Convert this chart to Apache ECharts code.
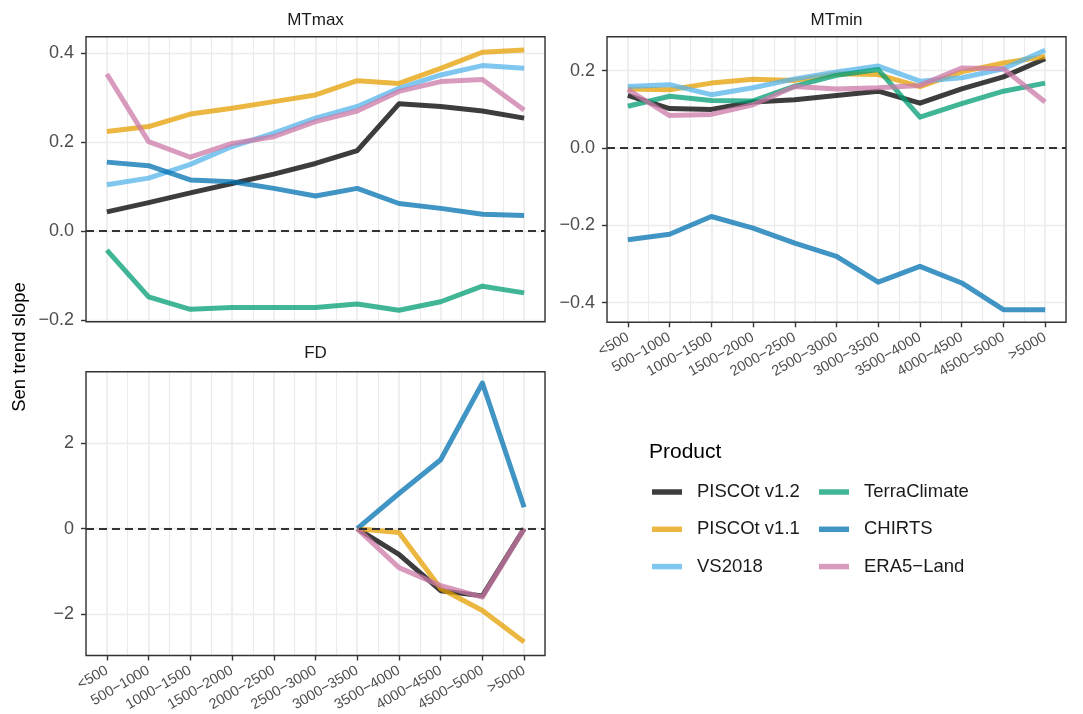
<!DOCTYPE html>
<html><head><meta charset="utf-8">
<script src="https://cdn.jsdelivr.net/npm/echarts@6/dist/echarts.min.js"></script>
<style>html,body{margin:0;padding:0;background:#fff}#c{width:1083px;height:714px}</style>
</head><body><div id="c"></div><script>
// ---- data ----
const categories = ['<500','500\u22121000','1000\u22121500','1500\u22122000','2000\u22122500','2500\u22123000','3000\u22123500','3500\u22124000','4000\u22124500','4500\u22125000','>5000'];
const products = ['PISCOt v1.2','PISCOt v1.1','VS2018','TerraClimate','CHIRTS','ERA5\u2212Land'];
const panelNames = ['MTmax','MTmin','FD'];

const mtmaxPISCOt12 = [0.043,0.064,0.086,0.107,0.128,0.152,0.181,0.286,0.280,0.270,0.254];
const mtmaxPISCOt11 = [0.224,0.235,0.263,0.276,0.291,0.306,0.338,0.332,0.366,0.402,0.407];
const mtmaxVS2018   = [0.104,0.119,0.150,0.190,0.220,0.254,0.280,0.321,0.351,0.372,0.366];
const mtmaxTerra    = [-0.043,-0.148,-0.176,-0.172,-0.172,-0.172,-0.164,-0.178,-0.159,-0.124,-0.139];
const mtmaxCHIRTS   = [0.155,0.147,0.115,0.111,0.096,0.079,0.096,0.062,0.051,0.038,0.035];
const mtmaxERA5     = [0.353,0.201,0.166,0.197,0.212,0.246,0.270,0.314,0.336,0.341,0.272];

const mtminPISCOt12 = [0.136,0.102,0.100,0.119,0.125,0.136,0.147,0.116,0.153,0.184,0.231];
const mtminPISCOt11 = [0.153,0.151,0.168,0.178,0.175,0.192,0.190,0.159,0.197,0.220,0.237];
const mtminVS2018   = [0.159,0.164,0.138,0.156,0.179,0.197,0.212,0.173,0.182,0.205,0.253];
const mtminTerra    = [0.108,0.134,0.123,0.122,0.160,0.188,0.203,0.080,0.115,0.147,0.168];
const mtminCHIRTS   = [-0.237,-0.223,-0.177,-0.207,-0.246,-0.280,-0.347,-0.306,-0.349,-0.418,-0.418];
const mtminERA5     = [0.151,0.084,0.087,0.112,0.159,0.153,0.156,0.162,0.207,0.205,0.119];

const fdPISCOt12 = [null,null,null,null,null,null,0,-0.60,-1.45,-1.57,0];
const fdPISCOt11 = [null,null,null,null,null,null,0,-0.09,-1.40,-1.91,-2.65];
const fdVS2018   = [null,null,null,null,null,null,null,null,null,null,null];
const fdTerra    = [null,null,null,null,null,null,null,null,null,null,null];
const fdCHIRTS   = [null,null,null,null,null,null,0,0.82,1.61,3.40,0.50];
const fdERA5     = [null,null,null,null,null,null,0,-0.91,-1.33,-1.60,0];

const mtmaxTicks = [-0.2,0,0.2,0.4];
const mtminTicks = [-0.4,-0.2,0,0.2];
const fdTicks = [-2,0,2];

// ---- styling / layout ----
const colors = ['rgba(0,0,0,0.76)','rgba(230,159,0,0.75)','rgba(86,180,233,0.75)','rgba(0,158,115,0.75)','rgba(0,114,178,0.75)','rgba(204,121,167,0.75)'];
const FONT = "'Liberation Sans', Arial, Helvetica, sans-serif";
const panelData = [
  [mtmaxPISCOt12,mtmaxPISCOt11,mtmaxVS2018,mtmaxTerra,mtmaxCHIRTS,mtmaxERA5],
  [mtminPISCOt12,mtminPISCOt11,mtminVS2018,mtminTerra,mtminCHIRTS,mtminERA5],
  [fdPISCOt12,fdPISCOt11,fdVS2018,fdTerra,fdCHIRTS,fdERA5]
];
const panelTicks = [mtmaxTicks, mtminTicks, fdTicks];
const panelDecimals = [1,1,0];
const grids = [
  {left:86, top:36.7, width:459, height:285},
  {left:607, top:36.7, width:459, height:285.6},
  {left:86, top:371.7, width:459, height:285}
];
const yRanges = [[-0.2038,0.437],[-0.4507,0.288],[-2.963,3.665]];
const showX = [false,true,true];

function fmt(d){ return function(v){ return v.toFixed(d).replace('-','\u2212'); }; }

const option = {
  animation:false,
  backgroundColor:'#fff',
  grid: grids.map(g => Object.assign({show:true, borderColor:'#333', borderWidth:1.4, backgroundColor:'transparent', z:2}, g)),
  xAxis: [],
  yAxis: [],
  series: [],
  legend: [
    {data: products.slice(0,3), left:647, top:477},
    {data: products.slice(3,6), left:814, top:477}
  ].map(l => Object.assign({orient:'vertical', icon:'rect', itemWidth:30, itemHeight:5.5, itemGap:17.3,
      selectedMode:false,
      textStyle:{fontSize:18.5, color:'#1a1a1a', fontFamily:FONT, lineHeight:20, padding:[0,0,0,10]}}, l)),
  graphic: []
};

grids.forEach((g,i) => {
  option.xAxis.push({
    type:'category', gridIndex:i, data:categories, boundaryGap:true, position:'bottom',
    axisLine:{show:false, onZero:false},
    axisTick:{show:showX[i], alignWithLabel:true, interval:0, length:5, lineStyle:{color:'#333', width:1.4}},
    axisLabel:{show:showX[i], interval:0, rotate:30, fontSize:14.5, color:'#4d4d4d', fontFamily:FONT, margin:14},
    splitLine:{show:true, interval:0, alignWithLabel:true, lineStyle:{color:'#ebebeb', width:1.6}}
  });
  option.xAxis.push({
    type:'category', gridIndex:i, data:categories, boundaryGap:true, position:'top',
    axisLine:{show:false, onZero:false}, axisTick:{show:false}, axisLabel:{show:false},
    splitLine:{show:true, interval:0, lineStyle:{color:'#ebebeb', width:1.1}}
  });
  const ticks = panelTicks[i];
  const f = fmt(panelDecimals[i]);
  option.yAxis.push({
    type:'value', gridIndex:i, min:yRanges[i][0], max:yRanges[i][1], splitNumber:7,
    axisLine:{show:false, onZero:false},
    axisTick:{show:true, length:5, lineStyle:{color:'#333', width:1.4}, customValues:ticks},
    axisLabel:{customValues:ticks, fontSize:18, color:'#4d4d4d', fontFamily:FONT, margin:12,
      formatter: v => ticks.some(t => Math.abs(t - v) < 1e-6) ? f(v) : ''},
    splitLine:{show:true, lineStyle:{color:'#ebebeb', width:1.4}}
  });
  // zero reference line
  option.series.push({
    type:'line', xAxisIndex:2*i, yAxisIndex:i, data:[], silent:true, z:2,
    markLine:{silent:true, symbol:['none','none'], label:{show:false},
      lineStyle:{color:'#333', type:[8,5], width:1.8},
      data:[{yAxis:0}]}
  });
  products.forEach((p,k) => {
    option.series.push({
      type:'line', name:p, xAxisIndex:2*i, yAxisIndex:i, data:panelData[i][k],
      symbol:'none', showSymbol:false, connectNulls:false, silent:true, z:3,
      color:colors[k], itemStyle:{color:colors[k]},
      lineStyle:{color:colors[k], width:5, join:'round', cap:'butt'}
    });
  });
  option.graphic.push({type:'text', x:g.left + g.width/2, y:i===2 ? 353 : 20.5,
    style:{text:panelNames[i], font:'17px ' + FONT, fill:'#1a1a1a', textAlign:'center', textVerticalAlign:'middle'}});
});

option.graphic.push({type:'text', x:19.5, y:347, rotation:Math.PI/2,
  style:{text:'Sen trend slope', font:'18.5px ' + FONT, fill:'#000', textAlign:'center', textVerticalAlign:'middle'}});
option.graphic.push({type:'text', x:649, y:452.7,
  style:{text:'Product', font:'21px ' + FONT, fill:'#000', textAlign:'left', textVerticalAlign:'middle'}});

const chart = echarts.init(document.getElementById('c'), null, {renderer:'canvas'});
chart.setOption(option);
</script></body></html>
